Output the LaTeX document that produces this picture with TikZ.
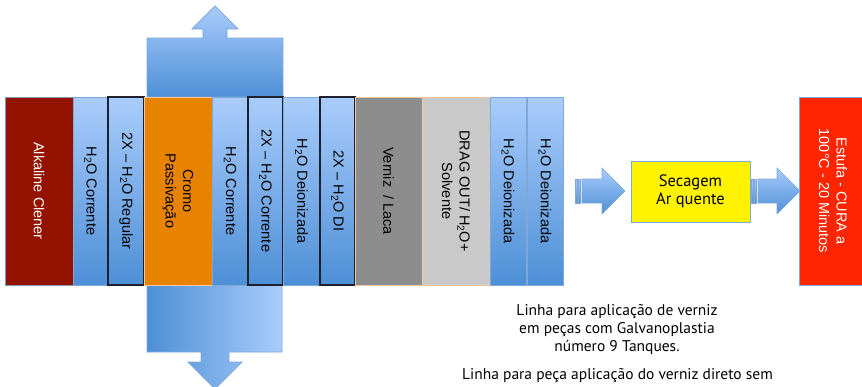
\documentclass[tikz,border=0pt]{standalone}
\usepackage{fontspec}
\setmainfont{Liberation Sans}
\newfontfamily\dinfont{PT Sans}
\definecolor{alk}{RGB}{147,18,0}
\definecolor{orng}{RGB}{232,131,0}
\definecolor{vgray}{RGB}{141,141,141}
\definecolor{lgray}{RGB}{201,201,201}
\definecolor{estred}{RGB}{255,37,0}
\definecolor{bl}{RGB}{169,204,251}
\definecolor{bd}{RGB}{77,143,214}
\definecolor{bb}{RGB}{127,168,218}
\definecolor{dk}{RGB}{30,32,45}
\definecolor{peach}{RGB}{247,200,160}
\tikzset{
  tank/.style={draw, minimum height=188pt, inner sep=0pt, line width=0.6pt},
  bluetank/.style={tank, top color=bl, bottom color=bd, draw=bb},
  darktank/.style={bluetank, draw=dk, line width=1.2pt},
  lab/.style={rotate=-90, font=\fontsize{14.5}{17.5}\selectfont, align=center, inner sep=0pt},
  callout/.style={draw=bb, line width=0.8pt},
  flowarrow/.style={draw=bb, line width=0.6pt, top color=bl, bottom color=bd},
  note/.style={font=\dinfont\fontsize{15.5}{18}\selectfont, align=center},
}
\newcommand{\hto}{H\textsubscript{2}O}
\begin{document}
\begin{tikzpicture}[x=1pt,y=-1pt]
\useasboundingbox (0,0) rectangle (862,386);
% callouts
\shadedraw[callout, top color=bl, bottom color=bd]
  (147,97) -- (147,38) -- (203,38) -- (203,29) -- (192,29) -- (215,6) -- (238,29)
  -- (227,29) -- (227,38) -- (283,38) -- (283,97) -- cycle;
\shadedraw[callout, left color=bd, right color=bl]
  (147,285) -- (282,285) -- (282,352) -- (229,352) -- (229,362) -- (242,362)
  -- (215,389) -- (188,362) -- (201,362) -- (201,352) -- (147,352) -- cycle;
% tanks
\node[tank, fill=alk, draw=bb!60!gray, minimum width=68pt] (t1) at (39,191) {};
\node[lab, text=white] at (t1) {Alkaline Clener};
\node[bluetank, minimum width=35pt] (t2) at (90.5,191) {};
\node[lab] at (t2) {\hto{} Corrente};
\node[darktank, minimum width=36pt] (t3) at (126,191) {};
\node[lab] at (t3) {2X -- \hto{} Regular};
\node[tank, fill=orng, draw=peach, minimum width=68pt] (t4) at (178,191) {};
\node[lab] at (t4) {Cromo\\Passivação};
\node[bluetank, minimum width=36pt] (t5) at (230,191) {};
\node[lab] at (t5) {\hto{} Corrente};
\node[darktank, minimum width=35pt] (t6) at (265.5,191) {};
\node[lab] at (t6) {2X -- \hto{} Corrente};
\node[bluetank, minimum width=37pt] (t7) at (301.5,191) {};
\node[lab] at (t7) {\hto{} Deionizada};
\node[darktank, minimum width=35pt] (t8) at (337.5,191) {};
\node[lab] at (t8) {2X -- \hto{} DI};
\node[tank, fill=vgray, draw=peach, minimum width=67pt] (t9) at (388.5,191) {};
\node[lab, text=black] at (t9) {Verniz \ / Laca};
\node[tank, fill=lgray, draw=peach, minimum width=68pt] (t10) at (456,191) {};
\node[lab] at (t10) {DRAG OUT/ \hto+\\Solvente};
\node[bluetank, minimum width=36pt] (t11) at (508,191) {};
\node[lab] at (t11) {\hto{} Deionizada};
\node[bluetank, minimum width=36pt] (t12) at (545,191) {};
\node[lab] at (t12) {\hto{} Deionizada};
% drying and curing
\node[draw=bb, line width=0.8pt, fill=yellow, minimum width=119pt, minimum height=61pt,
      inner sep=0pt, align=center, font=\dinfont\fontsize{16.5}{18}\selectfont] (sec) at (690.5,191.5) {Secagem\\Ar quente};
\node[tank, fill=estred, draw=bb, minimum width=68pt] (est) at (833,191) {};
\node[lab, text=white] at (est) {Estufa - CURA a\\100°C - 20 Minutos};
% flow arrows
\shadedraw[flowarrow] (575,179) rectangle (577,203);
\shadedraw[flowarrow] (578.5,179) rectangle (580.5,203);
\shadedraw[flowarrow] (582,179) -- (602,179) -- (602,168) -- (625,191) -- (602,214) -- (602,203) -- (582,203) -- cycle;
\shadedraw[flowarrow] (751,179) rectangle (753,203);
\shadedraw[flowarrow] (754.5,179) rectangle (756.5,203);
\shadedraw[flowarrow] (758,179) -- (777,179) -- (777,168) -- (800,191) -- (777,214) -- (777,203) -- (758,203) -- cycle;
% notes
\node[note] (note1) at (617,330)
  {Linha para aplicação de verniz\\em peças com Galvanoplastia\\número 9 Tanques.};
\node[note] (note2) at (617.5,376)
  {Linha para peça aplicação do verniz direto sem};
\end{tikzpicture}
\end{document}
